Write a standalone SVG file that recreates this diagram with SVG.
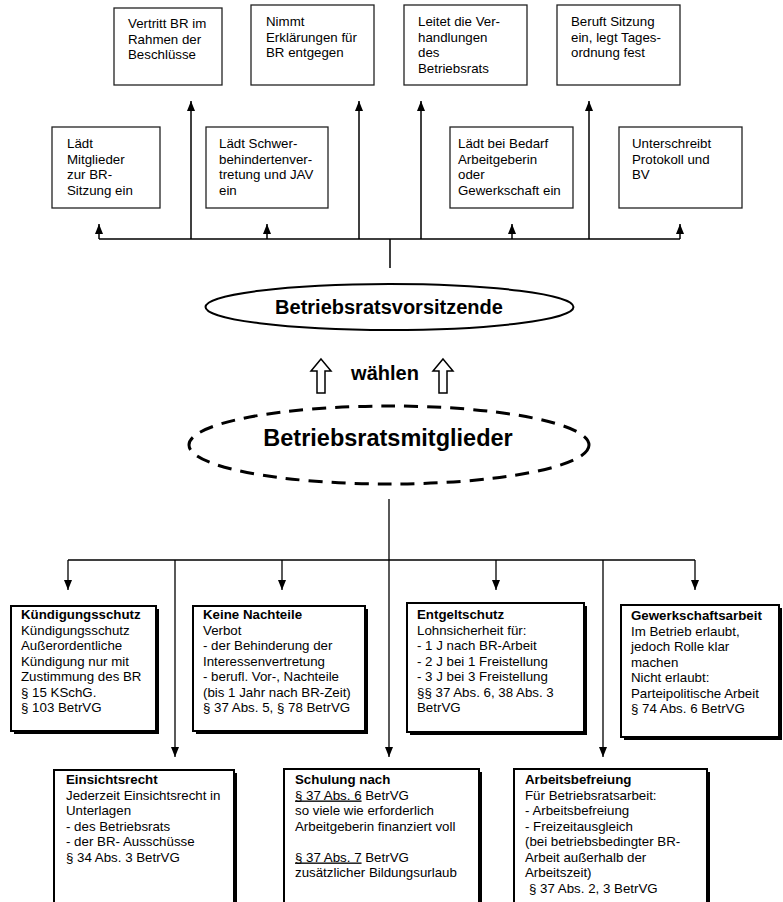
<svg xmlns="http://www.w3.org/2000/svg" width="783" height="902" viewBox="0 0 783 902">
<style>
text{font-family:"Liberation Sans",Arial,sans-serif;font-size:13.3px;fill:#000}
.tb{fill:#fff;stroke:#222;stroke-width:1.3}
.sh{fill:#000}
.bb{fill:#fff;stroke:#000;stroke-width:2}
.b{font-weight:bold}
.u{text-decoration:underline}
.c1{fill:none;stroke:#000;stroke-width:1.5}
.c2{fill:none;stroke:#000;stroke-width:1.3}
</style>
<defs>
<marker id="ah" markerUnits="userSpaceOnUse" markerWidth="10" markerHeight="8" viewBox="0 0 10 8" refX="10" refY="4" orient="auto"><path d="M0,0 L10,4 L0,8 z" fill="#000"/></marker>
</defs>

<g id="connectors">
<path class="c1" d="M99,239 H680 M390,239 V268"/>
<path class="c1" d="M99,239 V224" marker-end="url(#ah)"/>
<path class="c1" d="M191,239 V101" marker-end="url(#ah)"/>
<path class="c1" d="M267,239 V224" marker-end="url(#ah)"/>
<path class="c1" d="M359,239 V101" marker-end="url(#ah)"/>
<path class="c1" d="M421,239 V101" marker-end="url(#ah)"/>
<path class="c1" d="M512,239 V224" marker-end="url(#ah)"/>
<path class="c1" d="M589,239 V101" marker-end="url(#ah)"/>
<path class="c1" d="M680,239 V224" marker-end="url(#ah)"/>
<path class="c2" d="M389,499 V560 M68,560 H695"/>
<path class="c2" d="M68,560 V590" marker-end="url(#ah)"/>
<path class="c2" d="M175,560 V757" marker-end="url(#ah)"/>
<path class="c2" d="M282,560 V590" marker-end="url(#ah)"/>
<path class="c2" d="M389,560 V757" marker-end="url(#ah)"/>
<path class="c2" d="M496,560 V590" marker-end="url(#ah)"/>
<path class="c2" d="M603,560 V757" marker-end="url(#ah)"/>
<path class="c2" d="M695,560 V590" marker-end="url(#ah)"/>
<polygon points="321,359 331,371 325,371 325,393 317,393 317,371 311,371" fill="#fff" stroke="#000" stroke-width="1.5"/>
<polygon points="443,359 453,371 447,371 447,393 439,393 439,371 433,371" fill="#fff" stroke="#000" stroke-width="1.5"/>
<text class="b" x="385" y="380" text-anchor="middle" style="font-size:20px">wählen</text>
</g>

<g id="vertritt"><rect class="tb" x="114" y="8" width="108" height="77"/>
<text x="128" y="28">Vertritt BR im</text><text x="128" y="43.5">Rahmen der</text><text x="128" y="59">Beschlüsse</text></g>
<g id="nimmt"><rect class="tb" x="251" y="5" width="123" height="80"/>
<text x="266" y="26">Nimmt</text><text x="266" y="41.5">Erklärungen für</text><text x="266" y="57">BR entgegen</text></g>
<g id="leitet"><rect class="tb" x="404" y="5" width="123" height="80"/>
<text x="418" y="26">Leitet die Ver-</text><text x="418" y="41.5">handlungen</text><text x="418" y="57">des</text><text x="418" y="72.5">Betriebsrats</text></g>
<g id="beruft"><rect class="tb" x="557" y="5" width="123" height="80"/>
<text x="571" y="26">Beruft Sitzung</text><text x="571" y="41.5">ein, legt Tages-</text><text x="571" y="57">ordnung fest</text></g>
<g id="laedt-mitglieder"><rect class="tb" x="52" y="127" width="108" height="81"/>
<text x="67" y="148">Lädt</text><text x="67" y="163.5">Mitglieder</text><text x="67" y="179">zur BR-</text><text x="67" y="194.5">Sitzung ein</text></g>
<g id="laedt-schwer"><rect class="tb" x="206" y="127" width="122" height="81"/>
<text x="219" y="148">Lädt Schwer-</text><text x="219" y="163.5">behindertenver-</text><text x="219" y="179">tretung und JAV</text><text x="219" y="194.5">ein</text></g>
<g id="laedt-bedarf"><rect class="tb" x="450" y="127" width="123" height="81"/>
<text x="458" y="148">Lädt bei Bedarf</text><text x="458" y="163.5">Arbeitgeberin</text><text x="458" y="179">oder</text><text x="458" y="194.5">Gewerkschaft ein</text></g>
<g id="unterschreibt"><rect class="tb" x="619" y="127" width="123" height="81"/>
<text x="632" y="148">Unterschreibt</text><text x="632" y="163.5">Protokoll und</text><text x="632" y="179">BV</text></g>

<g id="vorsitzende"><ellipse cx="389.5" cy="307" rx="184" ry="23" fill="#fff" stroke="#000" stroke-width="2"/>
<text class="b" x="389" y="314" text-anchor="middle" style="font-size:20px">Betriebsratsvorsitzende</text></g>
<g id="mitglieder"><ellipse cx="389" cy="445" rx="200" ry="39" fill="#fff" stroke="#000" stroke-width="3" stroke-dasharray="14 9"/>
<text class="b" x="388" y="446" text-anchor="middle" style="font-size:23.5px">Betriebsratsmitglieder</text></g>

<g id="kuendigungsschutz"><rect class="sh" x="14" y="609" width="145" height="125"/><rect class="bb" x="11" y="606" width="145" height="125"/>
<text class="b" x="21" y="619">Kündigungsschutz</text><text x="21" y="634.5">Kündigungsschutz</text><text x="21" y="650">Außerordentliche</text><text x="21" y="665.5">Kündigung nur mit</text><text x="21" y="681">Zustimmung des BR</text><text x="21" y="696.5">§ 15 KSchG.</text><text x="21" y="712">§ 103 BetrVG</text></g>
<g id="keine-nachteile"><rect class="sh" x="196" y="609" width="172" height="125"/><rect class="bb" x="193" y="606" width="172" height="125"/>
<text class="b" x="203" y="619">Keine Nachteile</text><text x="203" y="634.5">Verbot</text><text x="203" y="650">- der Behinderung der</text><text x="203" y="665.5">Interessenvertretung</text><text x="203" y="681">- berufl. Vor-, Nachteile</text><text x="203" y="696.5">(bis 1 Jahr nach BR-Zeit)</text><text x="203" y="712">§ 37 Abs. 5, § 78 BetrVG</text></g>
<g id="entgeltschutz"><rect class="sh" x="410" y="606" width="177" height="129"/><rect class="bb" x="407" y="603" width="177" height="129"/>
<text class="b" x="417" y="619">Entgeltschutz</text><text x="417" y="634.5">Lohnsicherheit für:</text><text x="417" y="650">- 1 J nach BR-Arbeit</text><text x="417" y="665.5">- 2 J bei 1 Freistellung</text><text x="417" y="681">- 3 J bei 3 Freistellung</text><text x="417" y="696.5">§§ 37 Abs. 6, 38 Abs. 3</text><text x="417" y="712">BetrVG</text></g>
<g id="gewerkschaftsarbeit"><rect class="sh" x="624" y="608" width="158" height="132"/><rect class="bb" x="621" y="605" width="158" height="132"/>
<text class="b" x="631" y="620">Gewerkschaftsarbeit</text><text x="631" y="635.5">Im Betrieb erlaubt,</text><text x="631" y="651">jedoch Rolle klar</text><text x="631" y="666.5">machen</text><text x="631" y="682">Nicht erlaubt:</text><text x="631" y="697.5">Parteipolitische Arbeit</text><text x="631" y="713">§ 74 Abs. 6 BetrVG</text></g>
<g id="einsichtsrecht"><rect class="sh" x="57" y="773" width="180" height="140"/><rect class="bb" x="54" y="770" width="180" height="140"/>
<text class="b" x="66" y="784">Einsichtsrecht</text><text x="66" y="799.5">Jederzeit Einsichtsrecht in</text><text x="66" y="815">Unterlagen</text><text x="66" y="830.5">- des Betriebsrats</text><text x="66" y="846">- der BR- Ausschüsse</text><text x="66" y="861.5">§ 34 Abs. 3 BetrVG</text></g>
<g id="schulung"><rect class="sh" x="287" y="772" width="195" height="140"/><rect class="bb" x="284" y="769" width="195" height="140"/>
<text class="b" x="295" y="784">Schulung nach</text><text x="295" y="799.5"><tspan class="u">§ 37 Abs. 6</tspan> BetrVG</text><text x="295" y="815">so viele wie erforderlich</text><text x="295" y="830.5">Arbeitgeberin finanziert voll</text><text x="295" y="861.5"><tspan class="u">§ 37 Abs. 7</tspan> BetrVG</text><text x="295" y="877">zusätzlicher Bildungsurlaub</text></g>
<g id="arbeitsbefreiung"><rect class="sh" x="517" y="772" width="193" height="140"/><rect class="bb" x="514" y="769" width="193" height="140"/>
<text class="b" x="525" y="784">Arbeitsbefreiung</text><text x="525" y="799.5">Für Betriebsratsarbeit:</text><text x="525" y="815">- Arbeitsbefreiung</text><text x="525" y="830.5">- Freizeitausgleich</text><text x="525" y="846">(bei betriebsbedingter BR-</text><text x="525" y="861.5">Arbeit außerhalb der</text><text x="525" y="877">Arbeitszeit)</text><text x="529" y="892.5">§ 37 Abs. 2, 3 BetrVG</text></g>
</svg>
